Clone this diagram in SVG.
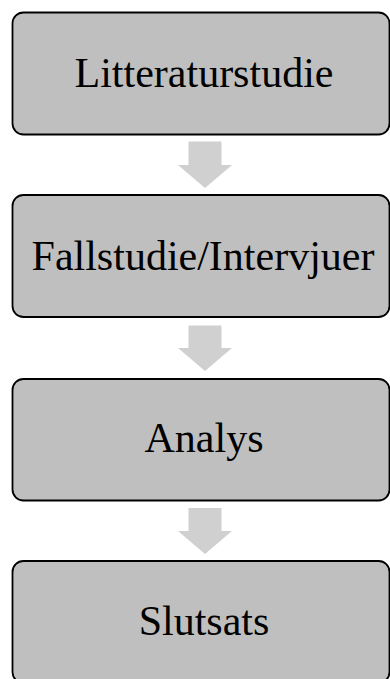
<svg xmlns="http://www.w3.org/2000/svg" width="390" height="679" viewBox="0 0 390 679">
<style>
.box{fill:#bfbfbf;stroke:#000;stroke-width:1.8}
.lbl{font-family:"Liberation Serif","Times New Roman",serif;font-size:42px;fill:#000;text-anchor:middle}
.arr{fill:#d0d0d0}
</style>
<rect width="390" height="679" fill="#fff"/>
<g id="connectors">
<polygon class="arr" points="188.5,141.5 221.5,141.5 221.5,165 232,165 205,188 178,165 188.5,165"/>
<polygon class="arr" points="188.5,325.5 221.5,325.5 221.5,348 232,348 205,371 178,348 188.5,348"/>
<polygon class="arr" points="188.5,508 221.5,508 221.5,531 232,531 205,554 178,531 188.5,531"/>
</g>
<g id="node1">
<rect class="box" x="12.5" y="12.5" width="377" height="122" rx="11"/>
<text class="lbl" x="204" y="87">Litteraturstudie</text>
</g>
<g id="node2">
<rect class="box" x="12.5" y="195" width="377" height="122" rx="11"/>
<text class="lbl" x="203" y="270">Fallstudie/Intervjuer</text>
</g>
<g id="node3">
<rect class="box" x="12.5" y="379" width="377" height="121.5" rx="11"/>
<text class="lbl" x="204" y="452">Analys</text>
</g>
<g id="node4">
<rect class="box" x="12.5" y="561" width="377" height="122" rx="11"/>
<text class="lbl" x="204" y="635">Slutsats</text>
</g>
</svg>
